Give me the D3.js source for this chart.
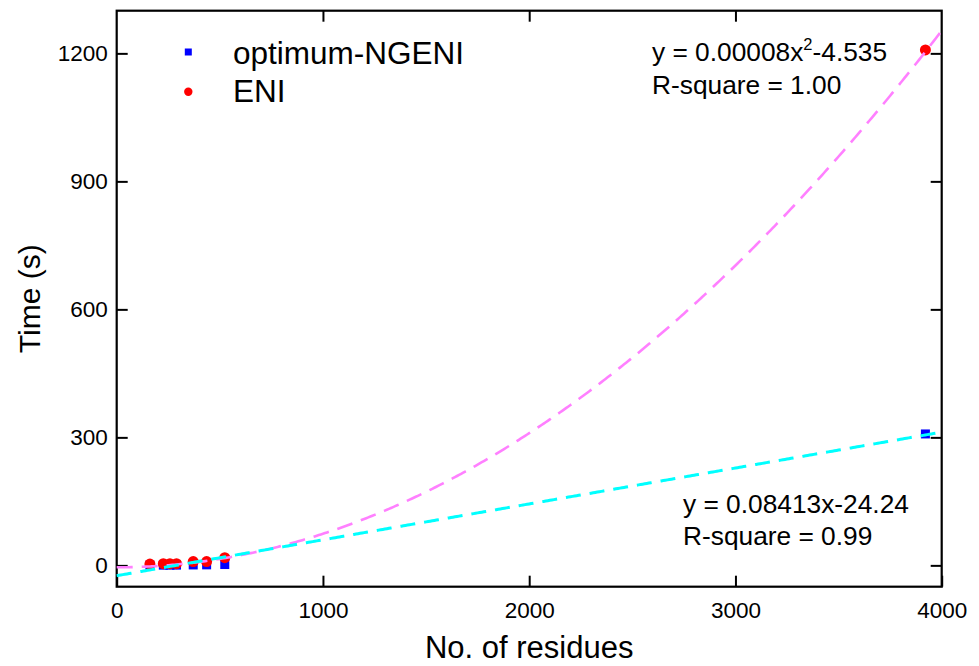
<!DOCTYPE html>
<html><head><meta charset="utf-8">
<script src="https://cdn.jsdelivr.net/npm/d3@7"></script>
<style>
body{margin:0;background:#fff;}
text{font-family:"Liberation Sans",Arial,sans-serif;fill:#000;}
</style></head>
<body><svg id="chart" width="979" height="666"></svg>
<script>
// ---- data ----
const residues = [161, 226, 258, 290, 371, 436, 524, 3921];
const ngeniTime = [0.3, 0.5, 0.5, 0.6, 1, 1.2, 2, 308];
const eniTime = [3, 4, 4, 4, 9, 9, 18, 1208];
const xTicks = [0, 1000, 2000, 3000, 4000];
const yTicks = [0, 300, 600, 900, 1200];
const seriesNames = ["optimum-NGENI", "ENI"];
// fit coefficients
const quadFit = [0.0000786, -4.535];   // a*x^2 + c
const linFit = [0.08413, -24.24];      // m*x + b
const fitLabels = [["y = 0.00008x", "2", "-4.535", "R-square = 1.00"],
                   ["y = 0.08413x-24.24", "R-square = 0.99"]];

const svg = d3.select("#chart");
const L = 116.7, R = 941.7, T = 10.7, B = 586.7;
const x = d3.scaleLinear().domain([0, 4000]).range([L, R]);
const y = d3.scaleLinear().domain([-50, 1300]).range([B, T]);
const fmt = d3.format("d");

// axes (ticks inward on all four sides)
const tickLen = 11;
svg.append("g").attr("transform", `translate(0,${B})`)
  .call(d3.axisBottom(x).tickValues(xTicks).tickFormat(fmt).tickSizeInner(-tickLen).tickSizeOuter(0).tickPadding(15))
  .call(g => { g.select(".domain").remove(); g.selectAll("text").attr("font-size", 22.5).style("font-family", "Liberation Sans, Arial"); g.selectAll("line").attr("stroke-width", 2); });
svg.append("g").attr("transform", `translate(0,${T})`)
  .call(d3.axisTop(x).tickValues(xTicks.slice(1, 4)).tickSizeInner(-tickLen).tickSizeOuter(0).tickFormat(""))
  .call(g => { g.select(".domain").remove(); g.selectAll("line").attr("stroke-width", 2); });
svg.append("g").attr("transform", `translate(${L},0)`)
  .call(d3.axisLeft(y).tickValues(yTicks).tickFormat(fmt).tickSizeInner(-tickLen).tickSizeOuter(0).tickPadding(9))
  .call(g => { g.select(".domain").remove(); g.selectAll("text").attr("font-size", 22.5).style("font-family", "Liberation Sans, Arial"); g.selectAll("line").attr("stroke-width", 2); });
svg.append("g").attr("transform", `translate(${R},0)`)
  .call(d3.axisRight(y).tickValues(yTicks).tickSizeInner(-tickLen).tickSizeOuter(0).tickFormat(""))
  .call(g => { g.select(".domain").remove(); g.selectAll("line").attr("stroke-width", 2); });

// frame
svg.append("rect").attr("x", L).attr("y", T).attr("width", R - L).attr("height", B - T)
  .attr("fill", "none").attr("stroke", "#000").attr("stroke-width", 2.2);

// points
const pts = residues.map((r, i) => ({r, n: ngeniTime[i], e: eniTime[i]}));
const sq = 9;
svg.append("g").selectAll("rect").data(pts).join("rect")
  .attr("x", d => x(d.r) - sq / 2).attr("y", d => y(d.n) - sq / 2)
  .attr("width", sq).attr("height", sq).attr("fill", "#0000ff");
svg.append("g").selectAll("circle").data(pts).join("circle")
  .attr("cx", d => x(d.r)).attr("cy", d => y(d.e)).attr("r", 5.5).attr("fill", "#ff0000");

// fit lines
const xs = d3.range(0, 4001, 10);
const line = d3.line().x(d => x(d[0])).y(d => y(d[1]));
svg.append("path").datum(xs.map(v => [v, quadFit[0] * v * v + quadFit[1]]))
  .attr("d", line).attr("fill", "none").attr("stroke", "#ff80ff").attr("stroke-width", 2.6)
  .attr("stroke-dasharray", "16,9");
svg.append("path").datum(xs.map(v => [v, linFit[0] * v + linFit[1]]))
  .attr("d", line).attr("fill", "none").attr("stroke", "#00ffff").attr("stroke-width", 3)
  .attr("stroke-dasharray", "15,9");

// legend
const lg = svg.append("g");
lg.append("rect").attr("x", 188.3 - 3.5).attr("y", 52 - 3.5).attr("width", 7).attr("height", 7).attr("fill", "#0000ff");
lg.append("circle").attr("cx", 188.3).attr("cy", 91.7).attr("r", 4.2).attr("fill", "#ff0000");
lg.append("text").attr("x", 233).attr("y", 63.5).attr("font-size", 31.5).text(seriesNames[0]);
lg.append("text").attr("x", 233).attr("y", 101.7).attr("font-size", 31.5).text(seriesNames[1]);

// fit annotations
const t1 = svg.append("text").attr("x", 652).attr("y", 60.7).attr("font-size", 26.3);
t1.append("tspan").text(fitLabels[0][0]);
t1.append("tspan").attr("font-size", 16.5).attr("dy", -11).text(fitLabels[0][1]);
t1.append("tspan").attr("dy", 11).text(fitLabels[0][2]);
svg.append("text").attr("x", 652).attr("y", 94).attr("font-size", 26.3).text(fitLabels[0][3]);
svg.append("text").attr("x", 683).attr("y", 513).attr("font-size", 26.3).text(fitLabels[1][0]);
svg.append("text").attr("x", 683).attr("y", 545).attr("font-size", 26.3).text(fitLabels[1][1]);

// axis titles
svg.append("text").attr("x", (L + R) / 2).attr("y", 658).attr("text-anchor", "middle")
  .attr("font-size", 31).text("No. of residues");
svg.append("text").attr("transform", `translate(40,${(T + B) / 2}) rotate(-90)`).attr("text-anchor", "middle")
  .attr("font-size", 30).text("Time (s)");
</script></body></html>
